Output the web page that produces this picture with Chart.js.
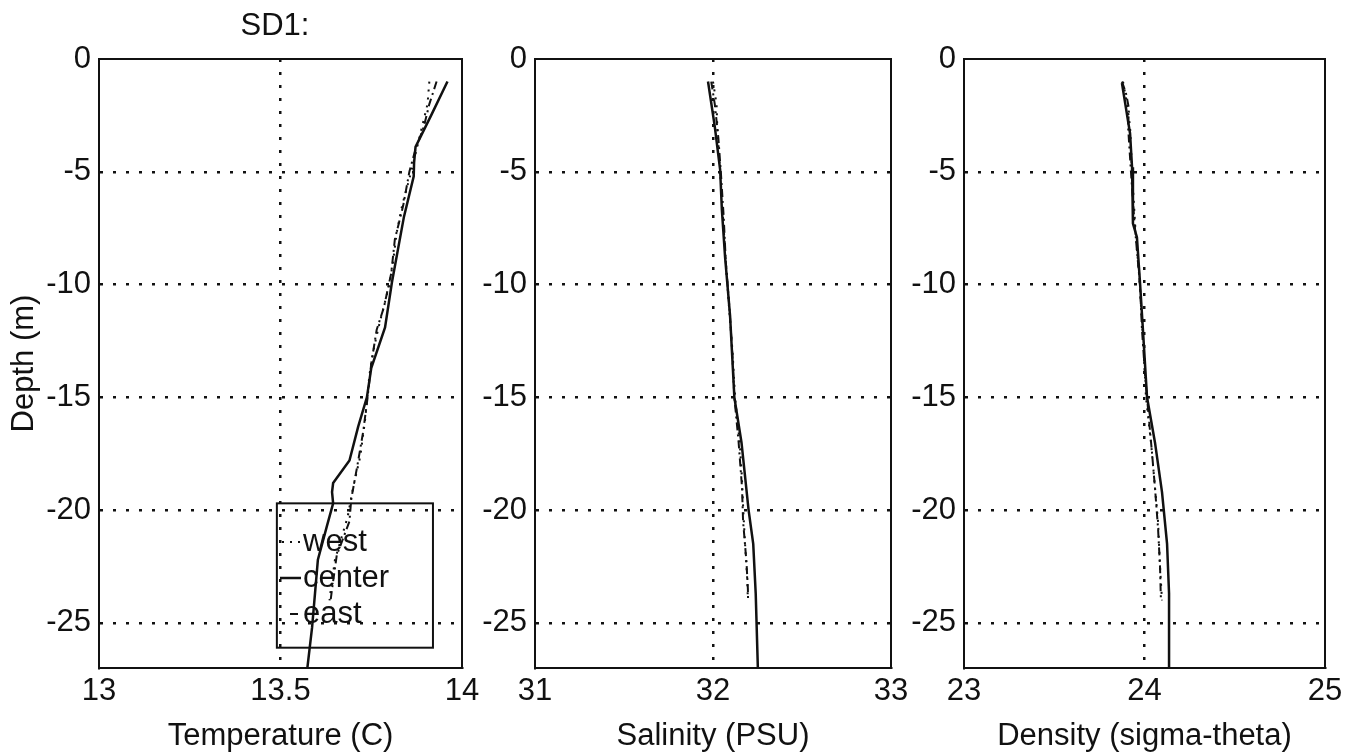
<!DOCTYPE html>
<html>
<head>
<meta charset="utf-8">
<script src="https://cdn.jsdelivr.net/npm/chart.js@4.4.1/dist/chart.umd.min.js"></script>
<style>
  html, body { margin: 0; padding: 0; background: #fff; }
  #wrap { position: relative; width: 1361px; height: 755px; background: #fff; }
  canvas { position: absolute; top: 0; }
</style>
</head>
<body>
<div id="wrap">
  <canvas id="tempChart" style="left:0px" width="480" height="755"></canvas>
  <canvas id="salChart" style="left:480px" width="429" height="755"></canvas>
  <canvas id="densChart" style="left:909px" width="452" height="755"></canvas>
</div>
<script>
Chart.defaults.font.family = "'Liberation Sans', Arial, sans-serif";
Chart.defaults.color = '#111';

// --- Dados ---
const depthTicks = [0, -5, -10, -15, -20, -25];
const tempTicks = [13, 13.5, 14];
const salTicks = [31, 32, 33];
const densTicks = [23, 24, 25];
const legendLabels = ['west', 'center', 'east'];

// Temperatura
const tempCenterDepth = [-1, -2.5, -3.9, -4.6, -5.2, -7, -9.9, -11.9, -13.7, -15, -16.3, -17.8, -18.8, -19.2, -19.7, -20.7, -22.2, -23.7, -25.2, -27];
const tempCenter = [13.96, 13.915, 13.872, 13.868, 13.867, 13.84, 13.807, 13.788, 13.75, 13.738, 13.714, 13.69, 13.645, 13.642, 13.645, 13.628, 13.603, 13.595, 13.587, 13.574];
const tempWestDepth = [-1, -2, -3, -4, -5, -6.5, -7.7, -9, -10, -11.9, -13, -14, -16, -17.6, -19, -20.3, -22.2, -23.6, -24];
const tempWest = [13.91, 13.905, 13.89, 13.875, 13.86, 13.835, 13.82, 13.81, 13.8, 13.77, 13.755, 13.745, 13.733, 13.72, 13.70, 13.685, 13.65, 13.638, 13.635];
const tempEastDepth = [-1, -2, -3, -4, -5, -6.5, -8, -9.5, -11, -12, -13.5, -15, -16.5, -18, -19.5, -20.5, -22, -23.5, -24];
const tempEast = [13.93, 13.91, 13.895, 13.872, 13.855, 13.838, 13.815, 13.805, 13.785, 13.765, 13.75, 13.74, 13.728, 13.712, 13.695, 13.69, 13.655, 13.642, 13.638];

// Salinidade
const salCenterDepth = [-1, -3, -4.9, -6.7, -8.8, -9.9, -11.4, -13.8, -15, -17, -20, -21.5, -23.7, -27];
const salCenter = [31.972, 32.01, 32.04, 32.05, 32.068, 32.08, 32.096, 32.112, 32.12, 32.16, 32.2, 32.226, 32.24, 32.252];
const salWestDepth = [-1, -2, -3, -5, -7, -9, -11, -13, -15, -17, -18.5, -20, -21.5, -23, -24];
const salWest = [32.0, 32.02, 32.024, 32.04, 32.056, 32.072, 32.09, 32.11, 32.124, 32.15, 32.162, 32.17, 32.18, 32.192, 32.196];
const salEastDepth = [-1, -2, -3.5, -5, -7, -9, -11, -13, -15, -17, -19, -20.5, -22.3, -23.5, -24];
const salEast = [31.99, 32.01, 32.03, 32.044, 32.06, 32.072, 32.092, 32.108, 32.12, 32.144, 32.163, 32.169, 32.188, 32.196, 32.197];

// Densidade
const densCenterDepth = [-1.07, -3.3, -4.8, -6.3, -7.3, -7.9, -9.9, -12.1, -15, -17, -19.2, -21.5, -23.7, -27];
const densCenter = [23.875, 23.92, 23.931, 23.936, 23.936, 23.958, 23.975, 23.992, 24.014, 24.058, 24.097, 24.125, 24.136, 24.136];
const densWestDepth = [-1, -2, -3, -5, -6.5, -8, -9.5, -11, -13, -15, -17, -19, -20.5, -22.5, -24];
const densWest = [23.881, 23.903, 23.92, 23.931, 23.942, 23.953, 23.97, 23.981, 23.997, 24.008, 24.036, 24.058, 24.075, 24.086, 24.097];
const densEastDepth = [-1, -1.5, -2.2, -3, -5, -7, -8.5, -10, -12, -14, -16, -17.5, -19, -20.8, -22.5, -24];
const densEast = [23.875, 23.897, 23.914, 23.909, 23.925, 23.942, 23.958, 23.975, 23.986, 24.003, 24.025, 24.042, 24.058, 24.075, 24.086, 24.091];

const FONT = { size: 31 };
const INK = '#111';
const westDash = [2, 6];
const eastDash = [8, 4, 2, 4];
const gridDash = [3, 10];

const pts = (xs, ys) => xs.map((x, i) => ({ x, y: ys[i] }));

const series = (label, xs, ys, dash, width) => ({
    label,
    data: pts(xs, ys),
    showLine: true,
    borderColor: INK,
    borderWidth: width,
    borderDash: dash,
    pointRadius: 0,
    fill: false,
    tension: 0
});

// moldura completa do eixo
const framePlugin = {
    id: 'frame',
    afterDraw(chart) {
        const { ctx, chartArea: a } = chart;
        ctx.save();
        ctx.strokeStyle = INK;
        ctx.lineWidth = 2;
        ctx.strokeRect(a.left, a.top, a.right - a.left, a.bottom - a.top);
        ctx.restore();
    }
};

// titulo "SD1:" e caixa de legenda (so no primeiro painel)
const sd1Plugin = {
    id: 'sd1',
    afterDraw(chart) {
        const { ctx, scales } = chart;
        ctx.save();
        ctx.fillStyle = INK;
        ctx.font = "31px 'Liberation Sans', Arial, sans-serif";
        ctx.textAlign = 'center';
        ctx.textBaseline = 'middle';
        ctx.fillText('SD1:', 275, 26);

        // caixa da legenda
        const x0 = scales.x.getPixelForValue(13.49);
        const x1 = scales.x.getPixelForValue(13.92);
        const y0 = scales.y.getPixelForValue(-19.7);
        const y1 = scales.y.getPixelForValue(-26.1);
        ctx.strokeStyle = INK;
        ctx.lineWidth = 2;
        ctx.strokeRect(x0, y0, x1 - x0, y1 - y0);

        const dashes = [westDash, [], eastDash];
        const rowY = [542, 578, 614];
        const sampleX = [[282, 300], [280, 301], [290, 301]];
        ctx.textAlign = 'left';
        legendLabels.forEach((lab, i) => {
            ctx.beginPath();
            ctx.setLineDash(dashes[i]);
            ctx.lineWidth = i === 1 ? 2.5 : 2;
            ctx.moveTo(sampleX[i][0], rowY[i]);
            ctx.lineTo(sampleX[i][1], rowY[i]);
            ctx.stroke();
            ctx.setLineDash([]);
            ctx.fillStyle = INK;
            ctx.fillText(lab, 303, rowY[i]);
        });
        ctx.restore();
    }
};

function makeChart(id, opts) {
    return new Chart(document.getElementById(id), {
        type: 'scatter',
        data: { datasets: opts.datasets },
        plugins: opts.plugins,
        options: {
            responsive: false,
            animation: false,
            events: [],
            layout: { padding: { top: 59, right: opts.padRight, left: 0, bottom: 0 } },
            plugins: { legend: { display: false }, tooltip: { enabled: false } },
            scales: {
                x: {
                    type: 'linear',
                    min: opts.xTicks[0],
                    max: opts.xTicks[opts.xTicks.length - 1],
                    afterBuildTicks: s => { s.ticks = opts.xTicks.map(v => ({ value: v })); },
                    afterFit: s => { s.height = 87; s.paddingLeft = 0; s.paddingRight = 0; },
                    ticks: {
                        font: FONT, color: INK, padding: 5, maxRotation: 0, autoSkip: false,
                        callback: v => String(v)
                    },
                    grid: {
                        drawTicks: false,
                        color: ctx => (ctx.tick && ctx.tick.value === opts.xTicks[1]) ? INK : 'rgba(0,0,0,0)',
                        lineWidth: 2.5
                    },
                    border: { display: true, color: INK, width: 2, dash: gridDash },
                    title: { display: true, text: opts.xTitle, font: FONT, color: INK, padding: { top: 8, bottom: 0 } }
                },
                y: {
                    type: 'linear',
                    min: -27,
                    max: 0,
                    afterBuildTicks: s => { s.ticks = depthTicks.map(v => ({ value: v })); },
                    afterFit: s => { s.width = opts.yWidth; s.paddingTop = 0; s.paddingBottom = 0; },
                    ticks: { font: FONT, color: INK, padding: 8, autoSkip: false, callback: v => String(v) },
                    grid: {
                        drawTicks: false,
                        color: ctx => (ctx.tick && ctx.tick.value !== 0) ? INK : 'rgba(0,0,0,0)',
                        lineWidth: 2.5
                    },
                    border: { display: true, color: INK, width: 2, dash: gridDash },
                    title: opts.yTitle
                        ? { display: true, text: opts.yTitle, font: FONT, color: INK, padding: { top: 6, bottom: 0 } }
                        : { display: false }
                }
            }
        }
    });
}

// grade pontilhada
Chart.defaults.scale.grid.borderDash = gridDash;

const tempChart = makeChart('tempChart', {
    xTicks: tempTicks,
    xTitle: 'Temperature (C)',
    yTitle: 'Depth (m)',
    yWidth: 99,
    padRight: 18,
    plugins: [framePlugin, sd1Plugin],
    datasets: [
        series('west', tempWest, tempWestDepth, westDash, 2),
        series('center', tempCenter, tempCenterDepth, [], 2.5),
        series('east', tempEast, tempEastDepth, eastDash, 2)
    ]
});

const salChart = makeChart('salChart', {
    xTicks: salTicks,
    xTitle: 'Salinity (PSU)',
    yTitle: null,
    yWidth: 55,
    padRight: 18,
    plugins: [framePlugin],
    datasets: [
        series('west', salWest, salWestDepth, westDash, 2),
        series('center', salCenter, salCenterDepth, [], 2.5),
        series('east', salEast, salEastDepth, eastDash, 2)
    ]
});

const densChart = makeChart('densChart', {
    xTicks: densTicks,
    xTitle: 'Density (sigma-theta)',
    yTitle: null,
    yWidth: 55,
    padRight: 36,
    plugins: [framePlugin],
    datasets: [
        series('west', densWest, densWestDepth, westDash, 2),
        series('center', densCenter, densCenterDepth, [], 2.5),
        series('east', densEast, densEastDepth, eastDash, 2)
    ]
});
</script>
</body>
</html>
